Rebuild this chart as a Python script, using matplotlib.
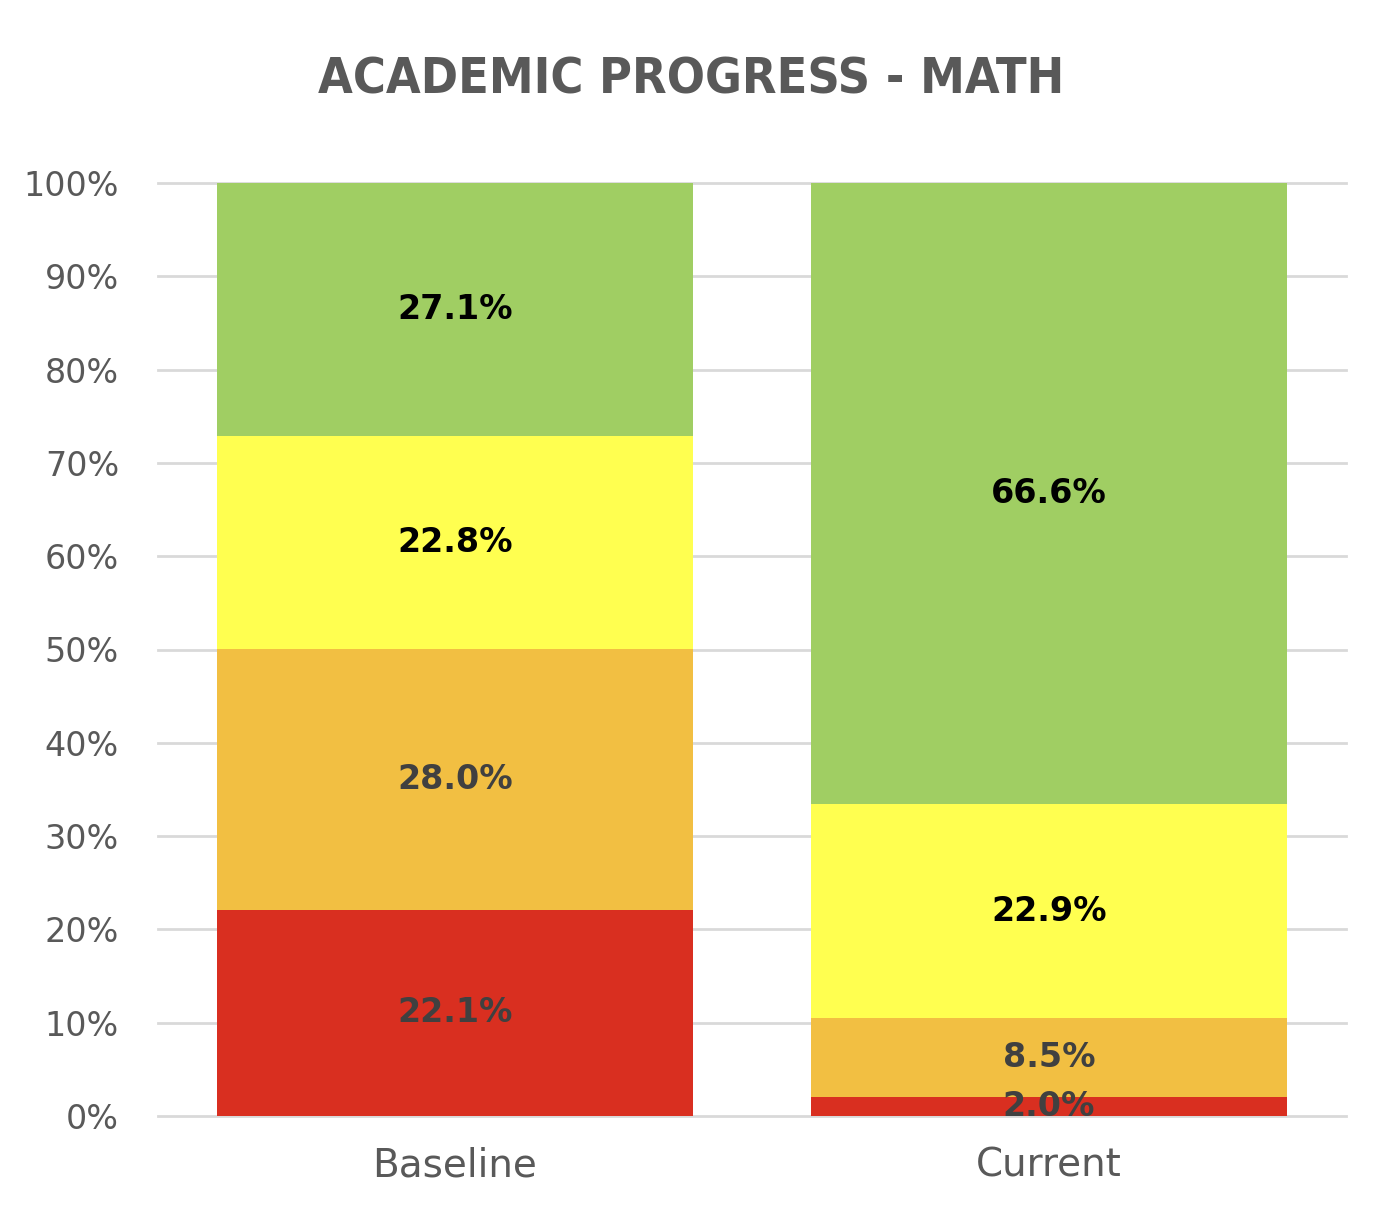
import matplotlib
matplotlib.use("Agg")
import matplotlib.pyplot as plt
import numpy as np

categories = ["Baseline", "Current"]
levels = ["Red", "Orange", "Yellow", "Green"]
red_vals = [22.1, 2.0]
orange_vals = [28.0, 8.5]
yellow_vals = [22.8, 22.9]
green_vals = [27.1, 66.6]
yticks = [0, 10, 20, 30, 40, 50, 60, 70, 80, 90, 100]
title = "ACADEMIC PROGRESS - MATH"

series = [red_vals, orange_vals, yellow_vals, green_vals]
colors = ["#D92F20", "#F2BF42", "#FFFF50", "#A0CE63"]
label_colors = ["#404040", "#404040", "#000000", "#000000"]

W, H = 1382, 1210
fig = plt.figure(figsize=(W / 100, H / 100), dpi=100)
ax = fig.add_axes([158 / W, (H - 1116) / H, 1188 / W, 933 / H])

x = np.arange(len(categories))
bottom = np.zeros(len(categories))
for vals, c, lc in zip(series, colors, label_colors):
    v = np.array(vals)
    ax.bar(x, v, width=0.8, bottom=bottom, color=c, zorder=2, linewidth=0)
    for xi, b, vi in zip(x, bottom, v):
        ax.text(xi, b + vi / 2, f"{vi:.1f}%", ha="center", va="center",
                fontsize=24, fontweight="bold", color=lc, family="DejaVu Sans",
                zorder=3)
    bottom += v

ax.set_xlim(-0.5, 1.5)
ax.set_ylim(0, 100)
ax.set_yticks(yticks)
ax.set_yticklabels([f"{t}%" for t in yticks])
ax.set_xticks(x)
ax.set_xticklabels(categories)
ax.grid(axis="y", color="#D9D9D9", linewidth=2, zorder=0)
ax.set_axisbelow(True)
for gl in ax.get_ygridlines():
    gl.set_clip_on(False)
for s in ax.spines.values():
    s.set_visible(False)
ax.tick_params(axis="y", length=0, pad=28, labelsize=24, labelcolor="#595959")
ax.tick_params(axis="x", length=0, pad=22, labelsize=28, labelcolor="#595959")

fig.text(0.5, 1 - 80 / H, title, ha="center", va="center",
         family=["Liberation Sans Narrow", "DejaVu Sans"], fontweight="bold",
         fontsize=36, color="#595959", fontstretch="condensed")

fig.savefig("out.png", dpi=100)
